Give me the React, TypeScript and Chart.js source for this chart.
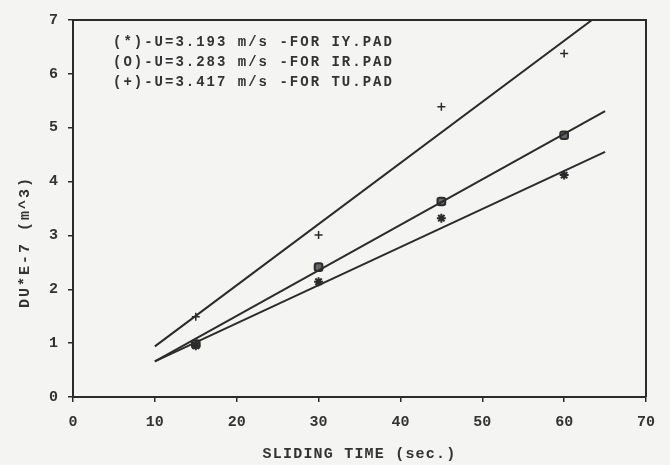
import React, { useEffect, useRef } from "react";
import { Chart, registerables } from "chart.js";

Chart.register(...registerables);

// ---- data ----
const xTickLabels = ["0", "10", "20", "30", "40", "50", "60", "70"];
const yTickLabels = ["0", "1", "2", "3", "4", "5", "6", "7"];

const sampleTimes = [15, 30, 45, 60];
const iyPad = [0.95, 2.14, 3.32, 4.12]; // (*) U=3.193 m/s
const irPad = [0.98, 2.41, 3.63, 4.86]; // (O) U=3.283 m/s
const tuPad = [1.49, 3.01, 5.39, 6.38]; // (+) U=3.417 m/s

// fitted straight lines (end points)
const fitTimesIY = [10, 65];
const fitIY = [0.66, 4.55];
const fitTimesIR = [10, 65];
const fitIR = [0.66, 5.31];
const fitTimesTU = [10, 63.4];
const fitTU = [0.94, 7.0];

const legendLines = [
  "(*)-U=3.193 m/s -FOR IY.PAD",
  "(O)-U=3.283 m/s -FOR IR.PAD",
  "(+)-U=3.417 m/s -FOR TU.PAD",
];
const xTitle = "SLIDING TIME (sec.)";
const yTitle = "DU*E-7 (m^3)";

const INK = "#2b2b2b";
const TEXT = "#333333";
const MONO = "'Liberation Mono', 'DejaVu Sans Mono', monospace";

const pts = (xs: number[], ys: number[]) => xs.map((x, i) => ({ x, y: ys[i] }));

export default function App() {
  const ref = useRef<HTMLCanvasElement | null>(null);

  useEffect(() => {
    if (!ref.current) return;

    const decor = {
      id: "decor",
      beforeDraw(chart: any) {
        const c = chart.ctx;
        c.save();
        c.fillStyle = "#f4f4f2";
        c.fillRect(0, 0, chart.width, chart.height);
        c.restore();
      },
      afterDraw(chart: any) {
        const c = chart.ctx;
        const a = chart.chartArea;
        c.save();
        // top & right frame
        c.strokeStyle = INK;
        c.lineWidth = 2;
        c.beginPath();
        c.moveTo(a.left, a.top);
        c.lineTo(a.right, a.top);
        c.lineTo(a.right, a.bottom);
        c.stroke();

        c.fillStyle = TEXT;
        // legend text
        c.font = `bold 14px ${MONO}`;
        (c as any).letterSpacing = "2px";
        c.textAlign = "left";
        c.textBaseline = "middle";
        legendLines.forEach((t, i) => c.fillText(t, 113, 42 + i * 20));

        // x title
        c.font = `bold 15px ${MONO}`;
        (c as any).letterSpacing = "1.2px";
        c.textAlign = "center";
        c.fillText(xTitle, (a.left + a.right) / 2, 454);

        // y title
        c.translate(25, 242);
        c.rotate(-Math.PI / 2);
        c.font = `bold 15px ${MONO}`;
        (c as any).letterSpacing = "2px";
        c.fillText(yTitle, 0, 0);
        c.restore();
        (c as any).letterSpacing = "0px";
      },
    };

    const lineDs = (label: string, data: any[]) => ({
      type: "line" as const,
      label,
      data,
      borderColor: INK,
      borderWidth: 2,
      pointRadius: 0,
      fill: false,
      tension: 0,
    });

    const chart = new Chart(ref.current, {
      type: "scatter",
      data: {
        datasets: [
          lineDs("fit IY", pts(fitTimesIY, fitIY)),
          lineDs("fit IR", pts(fitTimesIR, fitIR)),
          lineDs("fit TU", pts(fitTimesTU, fitTU)),
          {
            label: "IY.PAD",
            data: pts(sampleTimes, iyPad),
            pointStyle: "star",
            pointRadius: 4.5,
            borderColor: INK,
            borderWidth: 2,
            backgroundColor: INK,
          },
          {
            label: "IR.PAD",
            data: pts(sampleTimes, irPad),
            pointStyle: "rectRounded",
            pointRadius: 4.5,
            borderColor: INK,
            borderWidth: 2,
            backgroundColor: "#666",
          },
          {
            label: "TU.PAD",
            data: pts(sampleTimes, tuPad),
            pointStyle: "cross",
            pointRadius: 4,
            borderColor: INK,
            borderWidth: 1.5,
            backgroundColor: INK,
          },
        ] as any,
      },
      options: {
        animation: false,
        responsive: false,
        events: [],
        layout: { padding: { top: 20, right: 24, left: 0, bottom: 0 } },
        plugins: {
          legend: { display: false },
          tooltip: { enabled: false },
          title: { display: false },
        },
        scales: {
          x: {
            type: "linear",
            min: 0,
            max: 70,
            afterFit: (s: any) => {
              s.height = 68;
            },
            border: { display: true, color: INK, width: 2 },
            grid: { drawOnChartArea: false, drawTicks: true, tickLength: 5, color: INK, lineWidth: 1.5 },
            ticks: {
              stepSize: 10,
              padding: 11,
              color: TEXT,
              font: { family: MONO, size: 15, weight: "bold" },
              maxRotation: 0,
              callback: (v: any) => xTickLabels[Math.round(Number(v) / 10)] ?? "",
            },
          },
          y: {
            type: "linear",
            min: 0,
            max: 7,
            afterFit: (s: any) => {
              s.width = 73;
            },
            border: { display: true, color: INK, width: 2 },
            grid: { drawOnChartArea: false, drawTicks: true, tickLength: 5, color: INK, lineWidth: 1.5 },
            ticks: {
              stepSize: 1,
              padding: 10,
              color: TEXT,
              font: { family: MONO, size: 15, weight: "bold" },
              callback: (v: any) => yTickLabels[Math.round(Number(v))] ?? "",
            },
          },
        },
      } as any,
      plugins: [decor],
    });

    return () => chart.destroy();
  }, []);

  return (
    <div style={{ position: "fixed", left: 0, top: 0, width: 670, height: 465, background: "#f4f4f2" }}>
      <canvas ref={ref} width={670} height={465} style={{ display: "block" }} />
    </div>
  );
}
